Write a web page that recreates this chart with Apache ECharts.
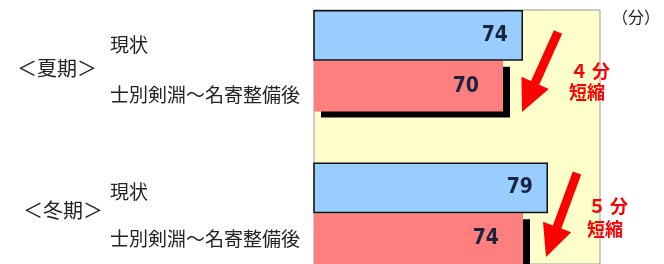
<!DOCTYPE html>
<html>
<head>
<meta charset="utf-8">
<script src="https://cdn.jsdelivr.net/npm/echarts@6/dist/echarts.min.js"></script>
<style>
  html, body { margin: 0; padding: 0; background: #fff; }
  #chart { width: 664px; height: 264px; }
</style>
</head>
<body>
<div id="chart"></div>
<script>
const seasons = ['＜夏期＞', '＜冬期＞'];
const rowNames = ['現状', '士別剣淵～名寄整備後'];
const currentMinutes = [74, 79];
const improvedMinutes = [70, 74];
const unitLabel = '（分）';

// 5 rows: summer (2), empty gap, winter (2)
const categories = [rowNames[0], rowNames[1], '', rowNames[0], rowNames[1]];
const currentData = [currentMinutes[0], '-', '-', currentMinutes[1], '-'];
const improvedData = ['-', improvedMinutes[0], '-', '-', improvedMinutes[1]];

const toWide = n => String(n).replace(/[0-9]/g, d => String.fromCharCode(0xFF10 + Number(d)));

function arrow(x0, y0, x1, y1) {
  const dx = x1 - x0, dy = y1 - y0, L = Math.hypot(dx, dy);
  const ux = dx / L, uy = dy / L, nx = -uy, ny = ux;
  const hl = 32, hw = 15, sw = 4.5;
  const bx = x1 - ux * hl, by = y1 - uy * hl;
  return [
    [x0 + nx * sw, y0 + ny * sw], [bx + nx * sw, by + ny * sw], [bx + nx * hw, by + ny * hw],
    [x1, y1],
    [bx - nx * hw, by - ny * hw], [bx - nx * sw, by - ny * sw], [x0 - nx * sw, y0 - ny * sw]
  ];
}

const chart = echarts.init(document.getElementById('chart'));

const valueLabel = dist => ({
  show: true,
  position: 'insideRight',
  distance: dist,
  color: '#1a2440',
  fontFamily: '"DejaVu Sans Condensed", "Liberation Sans Narrow", "Liberation Sans", sans-serif',
  fontWeight: 'bold',
  fontSize: 21
});

// small vertical nudges for the row labels (they sit a bit low in the original)
const labelShift = [18, 18, 0, 8, 0];
const rich = {};
labelShift.forEach((p, i) => {
  rich['r' + i] = { padding: [p, 0, 0, 0], fontFamily: 'Noto Sans CJK JP', fontSize: 19, color: '#222' };
});

const redText = { fill: '#ff0000', fontSize: 18, fontWeight: 'bold', fontFamily: 'Noto Sans CJK JP', verticalAlign: 'middle' };
const darkText = { fill: '#222', fontFamily: 'Noto Sans CJK JP', verticalAlign: 'middle' };

chart.setOption({
  animation: false,
  grid: {
    left: 314, right: 64, top: 10, bottom: -4,
    show: true, backgroundColor: '#ffffcc', borderColor: '#999', borderWidth: 1
  },
  xAxis: {
    type: 'value', min: 32.2, max: 89.4,
    axisLine: { show: false }, axisTick: { show: false },
    axisLabel: { show: false }, splitLine: { show: false }
  },
  yAxis: {
    type: 'category', inverse: true, data: categories,
    axisLine: { show: false }, axisTick: { show: false },
    axisLabel: {
      align: 'left', margin: 204,
      formatter: (v, i) => v ? '{r' + i + '|' + v + '}' : '',
      rich: rich
    }
  },
  series: [
    {
      type: 'bar', data: improvedData, barWidth: '100%', barGap: '-100%',
      itemStyle: {
        color: '#ff7f7f',
        shadowColor: '#000', shadowBlur: 0, shadowOffsetX: 7, shadowOffsetY: 6
      },
      label: valueLabel(24)
    },
    {
      type: 'bar', data: currentData, barWidth: '100%',
      itemStyle: { color: '#99ccff', borderColor: '#111', borderWidth: 1.5 },
      label: valueLabel(15)
    }
  ],
  graphic: [
    { type: 'text', left: 17, top: 58, style: Object.assign({ text: seasons[0], fontSize: 20 }, darkText) },
    { type: 'text', left: 23, top: 200, style: Object.assign({ text: seasons[1], fontSize: 20 }, darkText) },
    { type: 'text', left: 612, top: 9, style: Object.assign({ text: unitLabel, fontSize: 16 }, darkText) },
    { type: 'polygon', shape: { points: arrow(558, 32, 522, 112) }, style: { fill: '#ff0000' } },
    { type: 'polygon', shape: { points: arrow(577, 173, 546, 257) }, style: { fill: '#ff0000' } },
    { type: 'text', left: 570, top: 62, style: Object.assign({ text: toWide(currentMinutes[0] - improvedMinutes[0]) + ' 分' }, redText) },
    { type: 'text', left: 569, top: 83, style: Object.assign({ text: '短縮' }, redText) },
    { type: 'text', left: 588, top: 197, style: Object.assign({ text: toWide(currentMinutes[1] - improvedMinutes[1]) + ' 分' }, redText) },
    { type: 'text', left: 587, top: 220, style: Object.assign({ text: '短縮' }, redText) }
  ]
});
</script>
</body>
</html>
